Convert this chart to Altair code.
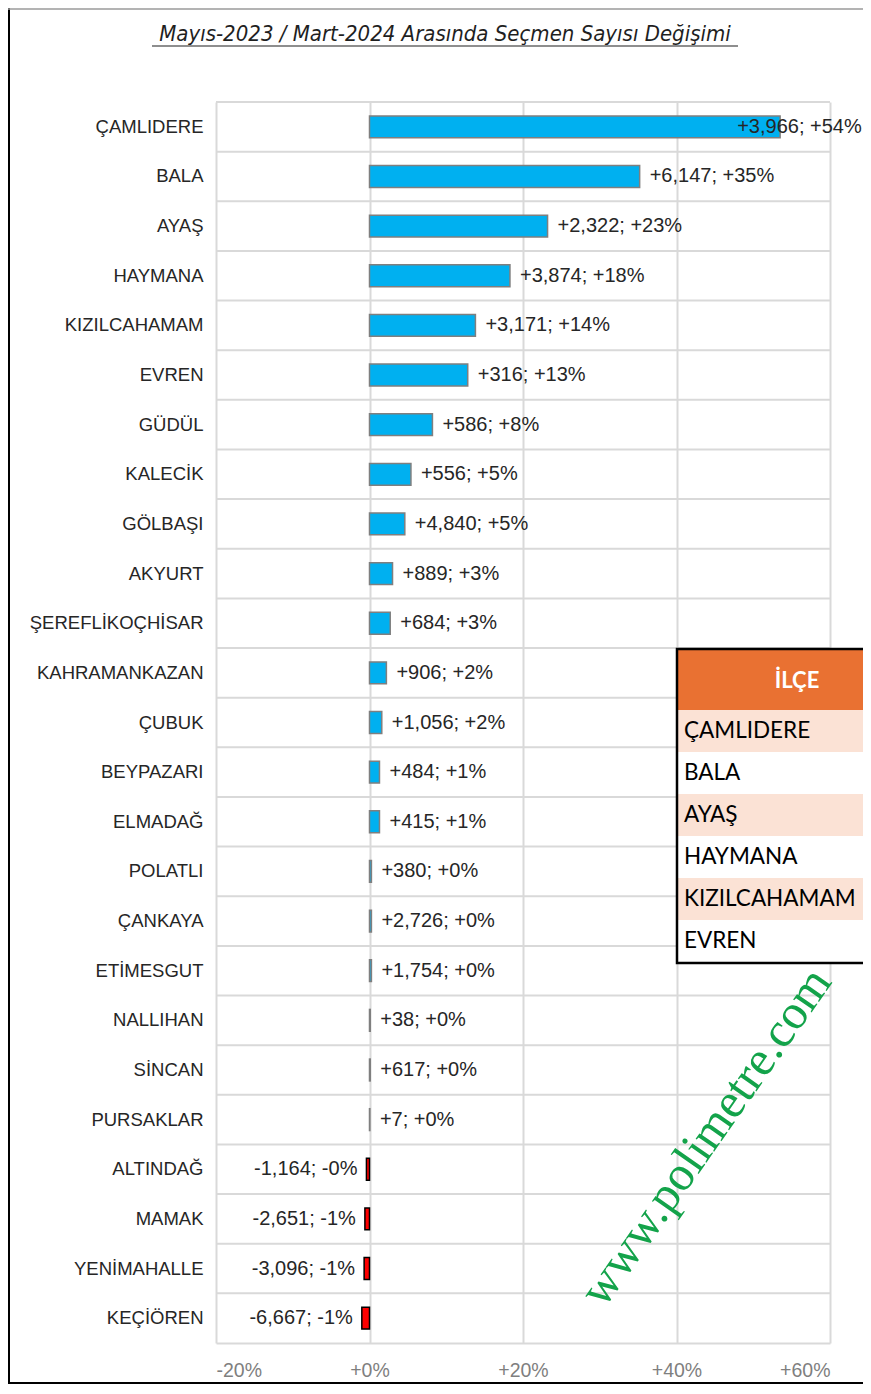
import altair as alt
import pandas as pd

# ---- data ----
ilce = ["ÇAMLIDERE", "BALA", "AYAŞ", "HAYMANA", "KIZILCAHAMAM", "EVREN", "GÜDÜL",
        "KALECİK", "GÖLBAŞI", "AKYURT", "ŞEREFLİKOÇHİSAR", "KAHRAMANKAZAN", "ÇUBUK",
        "BEYPAZARI", "ELMADAĞ", "POLATLI", "ÇANKAYA", "ETİMESGUT", "NALLIHAN", "SİNCAN",
        "PURSAKLAR", "ALTINDAĞ", "MAMAK", "YENİMAHALLE", "KEÇİÖREN"]
fark = [3966, 6147, 2322, 3874, 3171, 316, 586, 556, 4840, 889, 684, 906, 1056,
        484, 415, 380, 2726, 1754, 38, 617, 7, -1164, -2651, -3096, -6667]
yuzde = [53.5, 35.2, 23.2, 18.3, 13.8, 12.8, 8.2, 5.4, 4.6, 3.0, 2.7, 2.2, 1.6,
         1.3, 1.3, 0.25, 0.25, 0.25, 0.1, 0.1, 0.05, -0.4, -0.6, -0.7, -1.0]
x_ticks = [-20, 0, 20, 40, 60]
title_text = "Mayıs-2023 / Mart-2024 Arasında Seçmen Sayısı Değişimi"
table_header = "İLÇE"
table_rows = ["ÇAMLIDERE", "BALA", "AYAŞ", "HAYMANA", "KIZILCAHAMAM", "EVREN"]
watermark = "www.polimetre.com"

df = pd.DataFrame({"ilce": ilce, "fark": fark, "pct": yuzde})
tbl = pd.DataFrame({"satir": table_rows, "idx": list(range(len(table_rows)))})

W, H = 614, 1241
FONT = "Liberation Sans"
GRID = "#d9d9d9"

xscale = alt.Scale(domain=[-20, 60], nice=False, zero=False)
xaxis = alt.Axis(values=x_ticks,
                 labelExpr="(datum.value >= 0 ? '+' : '') + datum.value + '%'",
                 grid=True, gridColor=GRID, gridWidth=2,
                 domain=True, domainColor=GRID, domainWidth=2,
                 ticks=False, labelFontSize=19.5, labelColor="#7f7f7f",
                 labelFont=FONT, labelPadding=18, title=None)
yaxis = alt.Axis(grid=False, ticks=False, domain=False, labelFontSize=18.5,
                 labelColor="#262626", labelFont=FONT, labelPadding=13, title=None)
ysc = alt.Scale(paddingInner=0, paddingOuter=0)

base = alt.Chart(df).transform_calculate(
    zero="0",
    label="(datum.fark > 0 ? '+' : '-') + format(abs(datum.fark), ',') + '; ' + "
          "(datum.pct >= 0 ? '+' : '-') + format(round(abs(datum.pct)), 'd') + '%'",
    lx="min(datum.pct, 46.6)",
)

hgrid = base.mark_rule(color=GRID, strokeWidth=2).encode(
    y=alt.Y("ilce:N", sort=ilce, bandPosition=0, scale=ysc, axis=yaxis),
    x=alt.value(0), x2=alt.value(W),
)

bars = base.mark_bar(height=alt.RelativeBandSize(0.44), strokeWidth=1.5).encode(
    x=alt.X("pct:Q", scale=xscale, axis=xaxis),
    x2="zero:Q",
    y=alt.Y("ilce:N", sort=ilce, scale=ysc, axis=yaxis),
    color=alt.condition("datum.pct > 0", alt.value("#00B0F0"), alt.value("#FF0000")),
    stroke=alt.condition("datum.pct > 0", alt.value("#7f7f7f"), alt.value("#000000")),
)

pos_lbl = base.transform_filter("datum.pct > 0").mark_text(
    align="left", baseline="middle", dx=10, fontSize=20, font=FONT, color="#262626"
).encode(
    x=alt.X("lx:Q", scale=xscale, axis=xaxis),
    y=alt.Y("ilce:N", sort=ilce, scale=ysc, axis=yaxis),
    text="label:N",
)
neg_lbl = base.transform_filter("datum.pct <= 0").mark_text(
    align="right", baseline="middle", dx=-9, fontSize=20, font=FONT, color="#262626"
).encode(
    x=alt.X("pct:Q", scale=xscale, axis=xaxis),
    y=alt.Y("ilce:N", sort=ilce, scale=ysc, axis=yaxis),
    text="label:N",
)

one = pd.DataFrame({"t": [title_text]})
title = alt.Chart(one).mark_text(
    font="Liberation Sans Narrow, DejaVu Sans Condensed, Roboto", fontStyle="italic",
    fontSize=22, color="#1f1f1f", align="center", baseline="middle"
).encode(x=alt.value(229), y=alt.value(-68), text="t:N")
underline = alt.Chart(one).mark_rule(color="#1f1f1f", strokeWidth=1.2).encode(
    x=alt.value(-64), x2=alt.value(522), y=alt.value(-56))

frame_l = alt.Chart(one).mark_rule(color="#000000", strokeWidth=2).encode(
    x=alt.value(-207), y=alt.value(-94), y2=alt.value(H + 41))
frame_b = alt.Chart(one).mark_rule(color="#000000", strokeWidth=2).encode(
    x=alt.value(-208), x2=alt.value(W + 50), y=alt.value(H + 40))
frame_t = alt.Chart(one).mark_rule(color="#9a9a9a", strokeWidth=1.5).encode(
    x=alt.value(-208), x2=alt.value(W + 50), y=alt.value(-93))

wm = alt.Chart(pd.DataFrame({"w": [watermark]})).mark_text(
    angle=305, font="Liberation Serif", fontSize=49, color="#13a34a",
    align="center", baseline="middle"
).encode(x=alt.value(490), y=alt.value(1035), text="w:N")

main = alt.layer(hgrid, bars, pos_lbl, neg_lbl, title, underline,
                 frame_l, frame_b, frame_t, wm)

ty = alt.Y("satir:N", sort=table_rows, axis=None,
           scale=alt.Scale(range=[608, 860], paddingInner=0, paddingOuter=0))
tb = alt.Chart(tbl)
t_rows = tb.mark_rect().encode(
    y=ty, x=alt.value(462), x2=alt.value(700),
    fill=alt.condition("datum.idx % 2 == 0", alt.value("#FBE2D5"), alt.value("#ffffff")),
)
t_text = tb.mark_text(align="left", baseline="middle", font="Lato", fontSize=22.5,
                      color="#000000").encode(y=ty, x=alt.value(468), text="satir:N")
hdr = pd.DataFrame({"h": [table_header]})
t_head = alt.Chart(hdr).mark_rect(fill="#E97132").encode(
    x=alt.value(462), x2=alt.value(700), y=alt.value(548), y2=alt.value(608))
t_head_txt = alt.Chart(hdr).mark_text(font="Lato", fontWeight="bold", fontSize=22,
                                      color="#ffffff", align="center",
                                      baseline="middle").encode(
    x=alt.value(581), y=alt.value(579), text="h:N")
t_border = alt.Chart(hdr).mark_rect(fillOpacity=0, stroke="#000000", strokeWidth=2.5).encode(
    x=alt.value(461), x2=alt.value(720), y=alt.value(547), y2=alt.value(861))

table = alt.layer(t_rows, t_head, t_text, t_head_txt, t_border)

chart = alt.layer(main, table).resolve_scale(y="independent").properties(
    width=W, height=H,
    padding={"left": 208, "top": 94, "right": 33, "bottom": 42},
    autosize="none",
).configure_view(stroke=None)

chart.save("out.html", embed_options={"renderer": "svg", "actions": False})
